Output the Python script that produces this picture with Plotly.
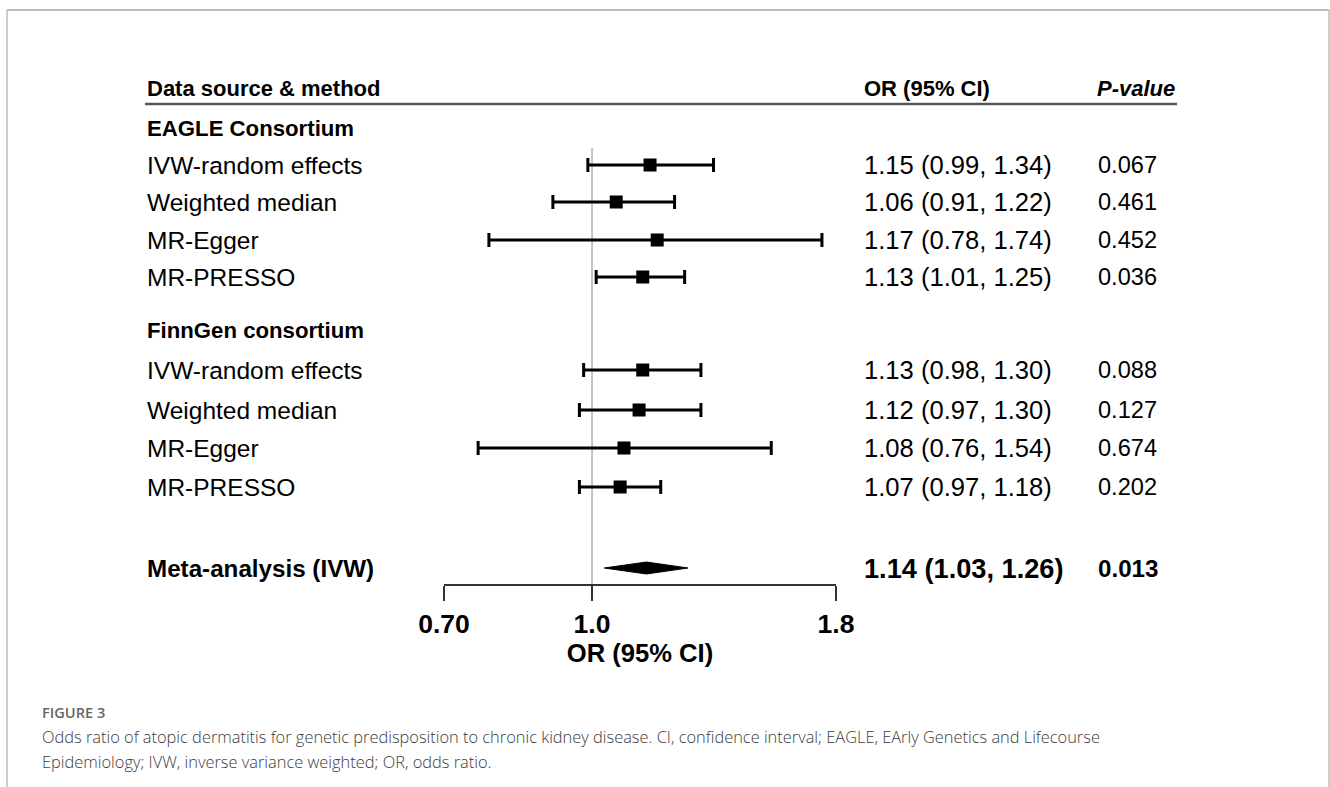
import numpy as np
import plotly.graph_objects as go

# ---------------- data ----------------
groups = ["EAGLE Consortium", "FinnGen consortium"]
methods = ["IVW-random effects", "Weighted median", "MR-Egger", "MR-PRESSO"]
eagle_or = [1.15, 1.06, 1.17, 1.13]
eagle_lo = [0.99, 0.91, 0.78, 1.01]
eagle_hi = [1.34, 1.22, 1.74, 1.25]
eagle_p = ["0.067", "0.461", "0.452", "0.036"]
finn_or = [1.13, 1.12, 1.08, 1.07]
finn_lo = [0.98, 0.97, 0.76, 0.97]
finn_hi = [1.30, 1.30, 1.54, 1.18]
finn_p = ["0.088", "0.127", "0.674", "0.202"]
meta_label = "Meta-analysis (IVW)"
meta_or, meta_lo, meta_hi, meta_p = 1.14, 1.03, 1.26, "0.013"
tick_vals = [0.70, 1.0, 1.8]
tick_text = ["0.70", "1.0", "1.8"]

# ---------------- layout constants (pixel rows) ----------------
W, H = 1330, 787
Y_HEADER = 88
Y_GROUP = [128, 330]
Y_ROWS = [[165, 202, 240, 277], [370, 410, 448, 487]]
Y_META = 568
AX_Y = 585
X_LEFT = 145
X_OR = 862
X_P = 1096
FONT = "Liberation Sans, Arial, sans-serif"

fig = go.Figure()

def fmt(o, l, h):
    return f"{o:.2f} ({l:.2f}, {h:.2f})"

# reference line at OR = 1
fig.add_trace(go.Scatter(x=[1.0, 1.0], y=[148, 600], mode="lines",
                         line=dict(color="#c4c4c4", width=2), hoverinfo="skip"))

annotations = []
def txt(x, y, s, size=22, anchor="left", color="#000", weight="normal", style="normal"):
    annotations.append(dict(x=x / W, xref="paper", y=y, yref="y", text=s,
                            showarrow=False, xanchor=anchor, yanchor="middle",
                            font=dict(family=FONT, size=size, color=color,
                                      weight=weight, style=style)))

for gi, (ors, los, his, ps) in enumerate([(eagle_or, eagle_lo, eagle_hi, eagle_p),
                                          (finn_or, finn_lo, finn_hi, finn_p)]):
    ys = Y_ROWS[gi]
    fig.add_trace(go.Scatter(
        x=ors, y=ys, mode="markers",
        marker=dict(symbol="square", size=13, color="#000"),
        error_x=dict(type="data", symmetric=False,
                     array=[h - o for o, h in zip(ors, his)],
                     arrayminus=[o - l for o, l in zip(ors, los)],
                     color="#000", thickness=3, width=7),
        hoverinfo="skip"))
    txt(X_LEFT, Y_GROUP[gi], groups[gi], size=22.2, weight="bold")
    for m, y, o, l, h, p in zip(methods, ys, ors, los, his, ps):
        txt(X_LEFT, y, m, size=24.5)
        txt(X_OR, y, fmt(o, l, h), size=25.6)
        txt(X_P, y, p, size=23.6)

# meta diamond
dh = 6
fig.add_trace(go.Scatter(
    x=[meta_lo, meta_or, meta_hi, meta_or, meta_lo],
    y=[Y_META, Y_META - dh, Y_META, Y_META + dh, Y_META],
    mode="lines", fill="toself", fillcolor="#000",
    line=dict(color="#000", width=1), hoverinfo="skip"))
txt(X_LEFT, Y_META, meta_label, size=24.2, weight="bold")
txt(X_OR, Y_META, fmt(meta_or, meta_lo, meta_hi), size=27.2, weight="bold")
txt(X_P, Y_META, meta_p, size=24.2, weight="bold")

# header
txt(X_LEFT, Y_HEADER, "Data source &amp; method", size=22, weight="bold")
txt(X_OR, Y_HEADER, "OR (95% CI)", size=22, weight="bold")
txt(1177, Y_HEADER, "P-value", size=22, anchor="right", weight="bold", style="italic")

# caption
annotations.append(dict(x=40 / W, xref="paper", y=1 - 712 / H, yref="paper",
                        text="FIGURE 3", showarrow=False, xanchor="left",
                        yanchor="middle",
                        font=dict(family="Open Sans", size=14.6, color="#666", weight=600)))
cap = ["Odds ratio of atopic dermatitis for genetic predisposition to chronic kidney disease. CI, confidence interval; EAGLE, EArly Genetics and Lifecourse",
       "Epidemiology; IVW, inverse variance weighted; OR, odds ratio."]
for i, line in enumerate(cap):
    annotations.append(dict(x=40 / W, xref="paper", y=1 - (736 + 25 * i) / H, yref="paper",
                            text=line, showarrow=False, xanchor="left", yanchor="middle",
                            font=dict(family="Open Sans", size=16.4, color="#3c3c3c", weight=300)))

shapes = [
    # header underline
    dict(type="line", xref="paper", yref="paper", x0=X_LEFT / W, x1=1177 / W,
         y0=1 - 104 / H, y1=1 - 104 / H, line=dict(color="#555", width=2.5)),
    # frame
    dict(type="line", xref="paper", yref="paper", x0=7 / W, x1=1329 / W,
         y0=1 - 10 / H, y1=1 - 10 / H, line=dict(color="#bdbdbd", width=2)),
    dict(type="line", xref="paper", yref="paper", x0=7 / W, x1=7 / W,
         y0=0, y1=1 - 10 / H, line=dict(color="#bdbdbd", width=1.5)),
    dict(type="line", xref="paper", yref="paper", x0=1329 / W, x1=1329 / W,
         y0=0, y1=1 - 10 / H, line=dict(color="#bdbdbd", width=1.5)),
]

fig.update_layout(
    template="none",
    width=W, height=H, margin=dict(l=0, r=0, t=0, b=0, pad=0, autoexpand=False),
    paper_bgcolor="white", plot_bgcolor="white", showlegend=False,
    annotations=annotations, shapes=shapes,
    xaxis=dict(type="log", range=[np.log10(0.7), np.log10(1.8)], automargin=False,
               domain=[444 / W, 836 / W], anchor="free", position=1 - AX_Y / H,
               showline=True, linecolor="#333", linewidth=1.5,
               ticks="outside", ticklen=15, tickwidth=1.5, tickcolor="#333",
               tickvals=tick_vals, ticktext=tick_text, showgrid=False, zeroline=False,
               tickfont=dict(family=FONT, size=26.5, color="#000", weight="bold"),
               title=dict(text="OR (95% CI)", standoff=2,
                          font=dict(family=FONT, size=25.6, color="#000", weight="bold"))),
    yaxis=dict(range=[H, 0], domain=[0, 1], visible=False, automargin=False,
               showgrid=False, zeroline=False),
)

fig.write_html("out.html", config={"displayModeBar": False},
               post_script="document.body.style.margin='0';document.body.style.overflow='hidden';")
